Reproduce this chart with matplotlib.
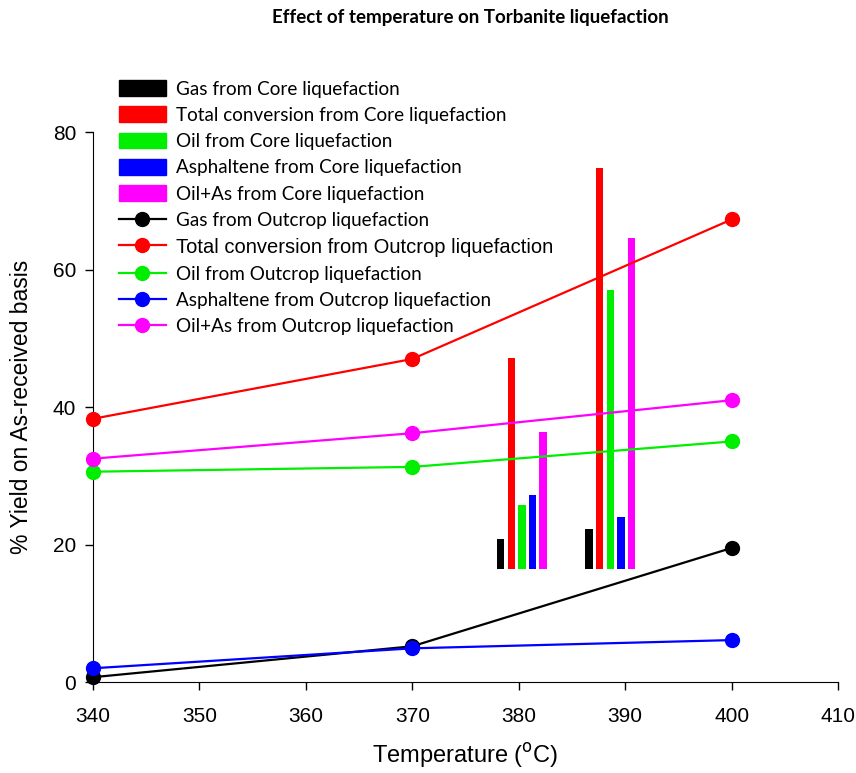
import matplotlib
matplotlib.use('Agg')
import matplotlib.pyplot as plt
from matplotlib.patches import Patch
from matplotlib.lines import Line2D

# outcrop liquefaction (lines)
temps = [340, 370, 400]
gas_outcrop = [0.7, 5.2, 19.5]
total_outcrop = [38.3, 47.0, 67.3]
oil_outcrop = [30.6, 31.3, 35.0]
asph_outcrop = [2.0, 4.9, 6.1]
oilas_outcrop = [32.5, 36.2, 41.0]

# core liquefaction (bars), two groups
bar_base = 16.5
group_x = [378.3, 386.6]
gas_core = [20.8, 22.3]
total_core = [47.1, 74.8]
oil_core = [25.7, 57.0]
asph_core = [27.2, 24.0]
oilas_core = [36.4, 64.6]

colors = ['black', 'red', '#00ee00', 'blue', 'magenta']
core_labels = ['Gas from Core liquefaction',
               'Total conversion from Core liquefaction',
               'Oil from Core liquefaction',
               'Asphaltene from Core liquefaction',
               'Oil+As from Core liquefaction']
outcrop_labels = ['Gas from Outcrop liquefaction',
                  'Total conversion from Outcrop liquefaction',
                  'Oil from Outcrop liquefaction',
                  'Asphaltene from Outcrop liquefaction',
                  'Oil+As from Outcrop liquefaction']

plt.rcParams['font.family'] = ['Liberation Sans', 'DejaVu Sans']

fig = plt.figure(figsize=(8.56, 7.73), dpi=100)
ax = fig.add_axes([0.1086, 0.1177, 0.8704, 0.7113])

core_series = [gas_core, total_core, oil_core, asph_core, oilas_core]
for i, (vals, c) in enumerate(zip(core_series, colors)):
    xs = [g + i * 1.0 for g in group_x]
    ax.bar(xs, [v - bar_base for v in vals], bottom=bar_base, width=0.7,
           color=c, zorder=2)

outcrop_series = [gas_outcrop, total_outcrop, oil_outcrop, asph_outcrop, oilas_outcrop]
for vals, c in zip(outcrop_series, colors):
    ax.plot(temps, vals, color=c, lw=1.6, marker='o', ms=10, zorder=3,
            clip_on=False)

ax.set_xlim(340, 410)
ax.set_ylim(0, 80)
ax.set_xticks(range(340, 411, 10))
ax.set_yticks(range(0, 81, 20))
ax.spines['top'].set_visible(False)
ax.spines['right'].set_visible(False)
ax.tick_params(direction='out', length=6, width=1, labelsize=15)
ax.tick_params(axis='x', pad=12)
ax.tick_params(axis='y', pad=6)

ax.set_xlabel('Temperature ($^{\\mathrm{o}}$C)', fontsize=17, labelpad=11)
ax.set_ylabel('% Yield on As-received basis', fontsize=16.5, labelpad=14)

fig.text(0.549, 0.977, 'Effect of temperature on Torbanite liquefaction',
         ha='center', va='center', fontsize=13.5, fontweight='bold',
         family=['Lato', 'DejaVu Sans'])

handles = [Patch(color=c) for c in colors]
handles += [Line2D([0], [0], color=c, lw=1.6, marker='o', ms=10) for c in colors]
leg = fig.legend(handles, core_labels + outcrop_labels, loc='upper left',
                 bbox_to_anchor=(0.13, 0.906), frameon=False,
                 prop={'family': ['Lato', 'DejaVu Sans'], 'size': 13.6},
                 handlelength=2.5, handleheight=0.9, labelspacing=0.47,
                 handletextpad=0.5, borderaxespad=0)
leg.get_texts()[6].set_family(['Liberation Sans', 'DejaVu Sans'])
leg.get_texts()[6].set_fontsize(14.5)

fig.savefig('out.png', dpi=100)
